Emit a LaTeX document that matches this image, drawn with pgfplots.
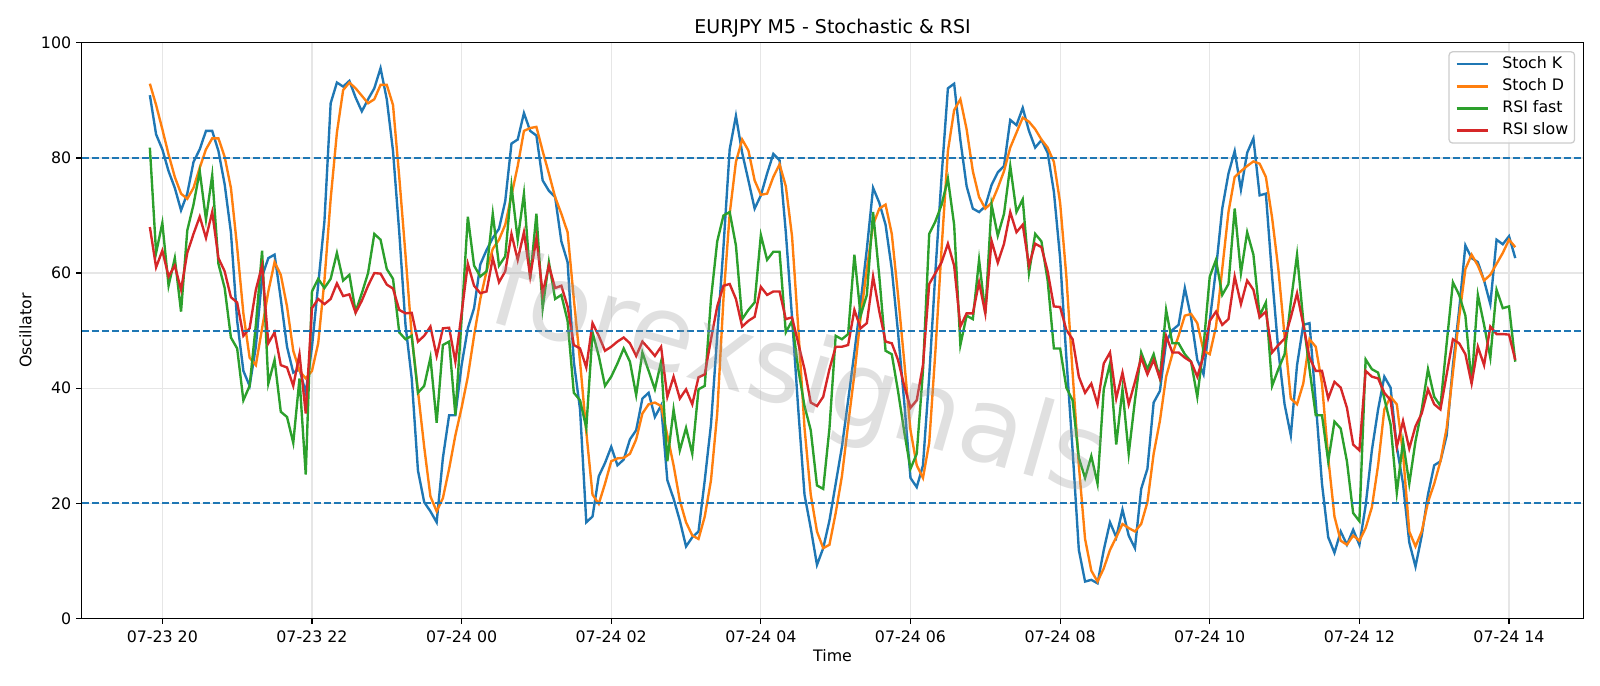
\documentclass[border=0pt]{standalone}
\usepackage{fontspec}
\setmainfont{DejaVu Sans}
\usepackage{pgfplots}
\pgfplotsset{compat=1.18}
\usepackage{pgfplotstable}

\definecolor{c0}{HTML}{1F77B4}
\definecolor{c1}{HTML}{FF7F0E}
\definecolor{c2}{HTML}{2CA02C}
\definecolor{c3}{HTML}{D62728}
\definecolor{gridc}{HTML}{E6E6E6}
\definecolor{legedge}{HTML}{CCCCCC}

% bar index (5-minute steps, 0 = 07-23 19:50), Stoch K, Stoch D, RSI fast, RSI slow
\pgfplotstableread{
i k d rf rs
0 90.9 92.9 81.8 68.0
1 84.1 89.2 63.5 61.0
2 81.5 85.0 68.7 63.9
3 77.7 80.6 57.8 59.4
4 74.8 76.7 62.6 61.3
5 70.9 73.8 53.3 57.1
6 73.8 72.9 67.4 63.5
7 79.3 74.8 71.9 66.8
8 81.5 78.3 77.7 69.8
9 84.7 81.5 69.3 66.1
10 84.7 83.4 77.0 70.6
11 81.2 83.4 61.6 62.6
12 75.4 80.2 57.4 60.3
13 67.1 74.8 48.8 55.8
14 51.7 64.5 46.9 54.9
15 43.0 53.0 37.9 49.1
16 40.4 45.3 40.4 50.4
17 47.2 44.0 51.0 57.1
18 59.4 50.4 63.9 61.3
19 62.6 56.8 40.8 47.8
20 63.2 61.9 44.9 49.7
21 55.5 59.7 35.9 44.0
22 47.2 54.2 35.0 43.6
23 42.7 46.5 30.5 40.4
24 43.3 43.0 41.7 45.9
25 39.2 41.7 25.0 35.6
26 47.2 43.0 56.8 53.9
27 58.0 47.8 59.0 55.5
28 69.0 58.7 57.4 54.6
29 89.5 72.9 59.0 55.5
30 93.1 84.4 63.5 58.2
31 92.4 91.8 58.7 56.0
32 93.4 93.1 59.7 56.3
33 90.5 92.1 53.3 53.1
34 88.1 90.8 56.5 55.2
35 90.2 89.5 60.0 57.8
36 92.1 90.2 66.8 60.0
37 95.6 92.7 65.8 59.9
38 90.2 92.7 60.7 58.0
39 81.2 89.2 59.0 57.3
40 67.1 76.7 49.7 53.6
41 51.0 63.2 48.5 53.0
42 41.7 49.1 49.1 53.1
43 25.7 39.5 39.2 48.1
44 20.2 29.8 40.4 49.1
45 18.6 21.2 45.3 50.7
46 16.7 18.6 34.0 45.6
47 27.9 20.9 47.5 50.4
48 35.3 26.0 48.1 50.5
49 35.3 31.8 35.3 44.6
50 44.0 36.6 52.0 53.0
51 50.4 42.0 69.8 61.6
52 53.9 49.1 61.3 57.8
53 61.5 55.5 59.4 56.5
54 64.0 60.3 60.3 56.8
55 66.1 64.2 70.3 62.6
56 67.7 65.8 61.3 58.4
57 72.5 68.4 62.9 60.3
58 82.5 73.5 75.1 66.8
59 83.2 78.6 65.8 62.3
60 87.8 84.7 73.8 67.1
61 84.7 85.2 59.0 59.4
62 83.9 85.4 70.3 66.1
63 76.1 81.2 53.9 56.5
64 74.3 77.3 61.9 61.3
65 73.2 73.2 55.5 57.4
66 65.5 70.3 56.2 57.8
67 61.9 67.1 51.7 54.2
68 44.6 55.5 39.2 47.5
69 36.3 44.6 37.9 46.9
70 16.7 32.4 33.1 43.6
71 17.7 21.5 49.7 51.3
72 24.7 19.9 45.6 49.1
73 27.0 23.4 40.4 46.5
74 29.8 27.3 42.0 47.2
75 26.6 27.8 44.3 48.1
76 27.6 27.9 46.9 48.8
77 31.1 28.6 44.6 47.8
78 32.7 31.1 38.8 45.6
79 38.2 35.6 46.2 48.1
80 39.2 37.2 43.0 46.9
81 35.0 37.5 39.8 45.6
82 37.0 36.9 44.6 47.2
83 24.0 31.8 27.3 38.5
84 20.8 26.6 36.3 42.0
85 17.0 20.5 29.2 38.2
86 12.5 16.7 33.1 39.8
87 14.1 14.4 28.6 37.2
88 15.1 13.8 39.8 41.9
89 24.0 17.7 40.4 42.4
90 33.7 24.0 55.5 48.5
91 49.1 35.6 65.5 54.2
92 64.5 55.5 70.0 57.8
93 81.5 70.3 70.6 58.1
94 87.3 79.3 64.8 55.5
95 80.9 83.2 52.0 50.7
96 76.1 81.3 53.6 51.7
97 71.2 76.1 54.9 52.4
98 73.5 73.6 66.6 57.6
99 77.3 73.8 62.3 56.2
100 80.7 76.7 63.7 56.8
101 79.6 78.9 63.7 56.8
102 67.1 75.1 49.7 52.0
103 52.3 66.4 51.7 52.3
104 36.3 50.4 43.3 47.8
105 21.5 33.1 36.9 43.3
106 15.7 21.5 32.7 37.5
107 9.3 15.1 23.1 36.9
108 12.2 12.2 22.5 38.5
109 17.0 12.8 33.0 43.3
110 23.4 18.3 49.1 47.2
111 29.8 24.7 48.5 47.2
112 37.9 33.7 49.4 47.5
113 46.2 42.4 63.2 53.6
114 54.9 52.3 52.6 50.4
115 64.2 60.7 56.2 51.3
116 74.8 68.4 70.6 59.4
117 72.2 71.2 59.4 53.3
118 68.4 71.9 46.5 48.1
119 60.7 66.8 45.9 47.8
120 49.7 56.2 39.5 44.9
121 37.5 44.6 32.4 40.4
122 24.4 32.7 26.0 36.6
123 22.8 26.6 28.6 37.9
124 26.6 24.4 43.0 44.0
125 42.0 30.5 66.8 58.1
126 60.3 46.5 69.0 60.0
127 77.0 64.5 71.9 61.9
128 92.1 81.2 76.4 65.1
129 92.9 88.3 68.4 61.3
130 83.1 90.2 47.5 50.7
131 75.1 85.0 52.6 53.0
132 71.2 77.7 52.0 53.0
133 70.6 73.2 62.3 58.4
134 71.6 71.2 53.0 53.0
135 75.3 72.2 71.9 65.6
136 77.5 74.8 66.5 61.8
137 78.6 77.7 70.3 65.1
138 86.6 81.8 78.6 70.6
139 85.7 84.4 70.6 67.1
140 88.7 87.0 72.8 68.4
141 84.7 86.3 60.0 61.3
142 81.8 85.0 66.8 65.1
143 83.1 83.2 65.5 64.5
144 80.9 81.8 58.7 60.3
145 74.1 79.3 46.9 54.2
146 62.6 72.2 46.9 54.1
147 45.3 59.4 40.1 50.1
148 29.2 42.7 37.9 48.5
149 11.9 26.6 27.9 42.0
150 6.4 13.8 24.4 39.2
151 6.7 8.3 28.2 40.8
152 6.1 6.4 23.4 37.2
153 11.9 8.7 39.8 44.3
154 16.7 11.9 44.3 46.2
155 14.1 14.1 30.2 38.2
156 18.9 16.4 39.8 42.7
157 14.4 15.7 28.6 37.2
158 12.2 15.1 37.9 41.1
159 22.5 16.4 46.2 45.3
160 26.0 20.2 43.3 42.4
161 37.5 28.6 45.9 44.9
162 39.5 34.3 41.7 41.7
163 48.0 42.0 53.6 49.1
164 50.1 45.9 47.8 46.2
165 51.0 49.1 47.8 46.2
166 57.4 52.6 45.9 45.3
167 52.3 52.9 44.6 44.6
168 44.9 51.3 38.5 42.0
169 42.4 46.5 47.2 45.6
170 51.7 45.9 59.4 51.7
171 60.7 50.7 62.3 53.3
172 71.2 60.7 56.2 51.0
173 77.3 70.6 58.1 52.0
174 81.2 76.7 71.2 59.4
175 74.5 77.7 60.0 54.6
176 80.9 78.6 67.1 58.7
177 83.4 79.4 63.2 57.1
178 73.5 79.0 52.6 52.3
179 73.8 76.7 54.9 53.3
180 59.4 69.6 40.4 46.2
181 46.5 60.7 43.3 47.5
182 37.2 49.1 45.9 48.6
183 31.8 38.2 54.9 52.3
184 44.0 37.2 63.2 56.5
185 51.0 40.8 51.7 51.0
186 51.3 48.5 43.3 45.3
187 37.5 47.2 35.3 43.0
188 23.4 40.8 35.3 43.0
189 14.1 27.9 27.3 38.2
190 11.4 17.7 34.2 41.1
191 15.1 13.5 33.0 40.1
192 12.8 12.8 27.3 36.6
193 15.4 14.4 18.3 30.2
194 12.8 13.5 16.9 29.2
195 19.6 15.7 45.0 43.0
196 29.2 19.3 43.3 42.0
197 36.3 26.6 42.7 41.7
198 42.0 36.3 38.2 39.2
199 40.1 38.5 33.7 37.9
200 29.8 37.2 21.8 29.8
201 23.4 28.6 30.8 34.3
202 13.2 15.1 23.4 29.5
203 9.0 12.5 30.8 33.4
204 14.4 15.1 36.3 35.6
205 21.5 20.2 43.3 39.8
206 26.6 23.4 38.5 37.2
207 27.3 27.3 36.9 36.3
208 31.8 33.1 47.8 42.4
209 44.0 42.7 58.4 48.5
210 53.6 52.3 56.2 47.8
211 64.8 60.7 52.6 45.9
212 62.6 63.2 40.8 40.8
213 61.9 61.3 56.2 47.2
214 58.7 58.7 51.0 44.0
215 54.6 59.7 45.3 50.7
216 65.8 61.6 57.1 49.4
217 65.0 63.5 53.9 49.4
218 66.4 65.8 54.2 49.3
219 62.6 64.5 44.6 44.9
}\osc

% overbought / midline / oversold levels
\pgfplotstableread{
x lvl
-10.95 20
229.95 20
}\lowlvl
\pgfplotstableread{
x lvl
-10.95 50
229.95 50
}\midlvl
\pgfplotstableread{
x lvl
-10.95 80
229.95 80
}\highlvl

\begin{document}
\begin{tikzpicture}
\begin{axis}[
  name=ax, at={(0,0)}, anchor=south west,
  scale only axis, width=1081.4bp, height=414.4bp,
  xmin=-10.95, xmax=229.95, ymin=0, ymax=100,
  xtick={2,26,50,74,98,122,146,170,194,218},
  xticklabels={07-23 20,07-23 22,07-24 00,07-24 02,07-24 04,07-24 06,07-24 08,07-24 10,07-24 12,07-24 14},
  ytick={0,20,40,60,80,100},
  tick align=outside, xtick pos=lower, ytick pos=left,
  major tick length=4bp,
  every tick/.style={black, line width=0.91bp},
  axis line style={line width=0.91bp},
  grid=major, major grid style={gridc, line width=0.91bp},
  tick label style={font=\fontsize{11.43}{13.7}\selectfont},
  xticklabel style={yshift=-1.5bp},
  /pgf/number format/assume math mode=true,
  title={EURJPY M5 - Stochastic \& RSI},
  every axis title/.style={at={(0.5,1)}, anchor=base, yshift=6.8bp, font=\fontsize{13.7}{16}\selectfont},
  xlabel={Time}, ylabel={Oscillator},
  label style={font=\fontsize{11.43}{13.7}\selectfont},
  xlabel style={at={(axis description cs:0.5,0)}, anchor=center, yshift=-27.1bp},
  ylabel style={at={(axis description cs:-0.0374,0.5)}, anchor=center},
  legend style={at={(axis description cs:1,1)}, anchor=north east, xshift=-6bp, yshift=-6bp,
    draw=legedge, line width=0.91bp, fill=white, fill opacity=0.8, text opacity=1, rounded corners=2.5bp,
    font=\fontsize{11.43}{13.7}\selectfont, row sep=2.1bp, inner xsep=4.57bp, inner ysep=2.1bp,
    nodes={inner xsep=0bp, inner ysep=1.5bp, text height=8.4bp, text depth=2.4bp},
    /tikz/every odd column/.append style={column sep=9.1bp}},
  legend cell align=left,
  legend image code/.code={\draw[#1] (0bp,0bp) -- (22.9bp,0bp);},
  clip=true,
]
\addplot[c0, line width=1.71bp] table[x=i, y=k] {\osc};
\addlegendentry{Stoch K}
\addplot[c1, line width=1.71bp] table[x=i, y=d] {\osc};
\addlegendentry{Stoch D}
\addplot[c2, line width=1.71bp] table[x=i, y=rf] {\osc};
\addlegendentry{RSI fast}
\addplot[c3, line width=1.71bp] table[x=i, y=rs] {\osc};
\addlegendentry{RSI slow}

\addplot[c0, line width=1.37bp, dash pattern=on 5.07bp off 2.19bp, forget plot] table[x=x, y=lvl] {\highlvl};
\addplot[c0, line width=1.37bp, dash pattern=on 5.07bp off 2.19bp, forget plot] table[x=x, y=lvl] {\midlvl};
\addplot[c0, line width=1.37bp, dash pattern=on 5.07bp off 2.19bp, forget plot] table[x=x, y=lvl] {\lowlvl};

\coordinate (wm) at (axis cs:104,41.5);
\end{axis}

% faint watermark across the plot
\node[rotate=-16, font=\fontsize{76}{80}\selectfont, text=black!40, opacity=0.3] at (wm) {forexsignals};

\pgfresetboundingbox
\path[use as bounding box] (-58.75bp,-48.67bp) rectangle (1093.25bp,445.25bp);
\end{tikzpicture}
\end{document}
